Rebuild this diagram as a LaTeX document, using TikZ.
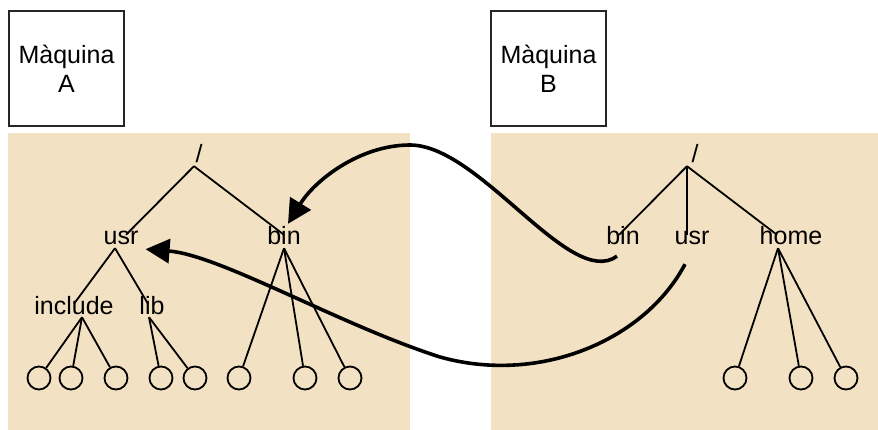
\documentclass[tikz,border=0pt]{standalone}
\usepackage{fontspec}
\setmainfont{Liberation Sans}
\usepackage{xcolor}
\usetikzlibrary{arrows.meta}
\definecolor{panelfill}{RGB}{243,225,195}

\begin{document}
\begin{tikzpicture}[
  x=1pt,y=-1pt,
  machine/.style={draw=black!85,line width=2pt,minimum size=115pt,inner sep=0pt,
    align=center,font=\fontsize{25}{29}\selectfont},
  dir/.style={font=\fontsize{25}{29}\selectfont,inner sep=1pt,anchor=base,
    text height=0.9em,text depth=0.2em},
  leaf/.style={circle,draw,line width=1.8pt,minimum size=23pt,inner sep=0pt},
  branch/.style={line width=1.8pt},
  mount/.style={line width=3.6pt,-{Triangle[length=24pt,width=24pt]}}
]
\useasboundingbox (0,0) rectangle (878,430);
\fill[panelfill] (8,133) rectangle (410,430);
\fill[panelfill] (491,133) rectangle (878,430);

\node[machine] (machA) at (66.5,68.5) {Màquina\\A};
\node[machine] (machB) at (548.5,68.5) {Màquina\\B};

% machine A
\node[dir] (rootA) at (199,163) {/};
\node[dir] (usrA) at (121,245) {usr};
\node[dir] (binA) at (284,245) {bin};
\node[dir] (incA) at (74,314) {include};
\node[dir] (libA) at (152,314) {lib};
\foreach \x [count=\i] in {39,71,116,161,195,239,305,350}
  \node[leaf] (a\i) at (\x,378) {};
\draw[branch] ([xshift=-5]rootA.south) -- ([xshift=5]usrA.north);
\draw[branch] ([xshift=-5]rootA.south) -- (binA.north);
\draw[branch] ([xshift=-6]usrA.south) -- (incA.north);
\draw[branch] ([xshift=-6]usrA.south) -- ([xshift=-4]libA.north);
\foreach \i in {1,2,3}
  \draw[branch] ([xshift=8]incA.south) -- (a\i);
\foreach \i in {4,5}
  \draw[branch] ([xshift=-3]libA.south) -- (a\i);
\foreach \i in {6,7,8}
  \draw[branch] (binA.south) -- (a\i);

% machine B
\node[dir] (rootB) at (695,163) {/};
\node[dir] (binB) at (623,245) {bin};
\node[dir] (usrB) at (692,245) {usr};
\node[dir] (homeB) at (791,245) {home};
\foreach \x [count=\i] in {735,801,846}
  \node[leaf] (b\i) at (\x,378) {};
\draw[branch] ([xshift=-8]rootB.south) -- ([xshift=-4]binB.north);
\draw[branch] ([xshift=-8]rootB.south) -- ([xshift=-5]usrB.north);
\draw[branch] ([xshift=-8]rootB.south) -- ([xshift=-14]homeB.north);
\foreach \i in {1,2,3}
  \draw[branch] ([xshift=-13]homeB.south) -- (b\i);

% mounts
\draw[mount] ([shift={(-6,8)}]binB.south) .. controls (570,290) and (480,145) .. (410,145)
  .. controls (360,145) and (315,180) .. ([shift={(4,-11)}]binA.north);
\draw[mount] ([shift={(-7,16)}]usrB.south) .. controls (645,340) and (540,385) .. (440,357)
  .. controls (340,325) and (220,255) .. ([shift={(6,1)}]usrA.south east);
\end{tikzpicture}
\end{document}
